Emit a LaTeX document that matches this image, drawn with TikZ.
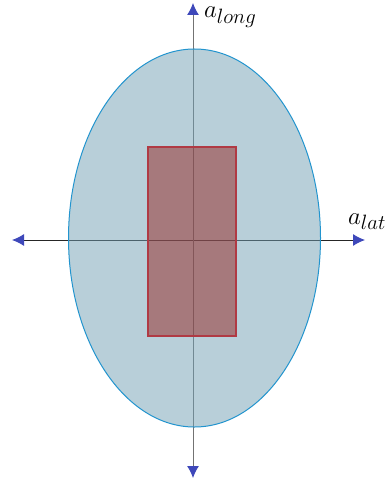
\documentclass[tikz,border=0pt]{standalone}
\usepackage{xcolor}
\usepackage{tikz}
\usetikzlibrary{arrows.meta,positioning}

\definecolor{tipblue}{RGB}{62,72,186}
\definecolor{ellfill}{RGB}{113,159,179}
\definecolor{elledge}{RGB}{34,148,206}
\definecolor{rectfill}{RGB}{150,36,32}
\definecolor{rectedge}{RGB}{176,58,68}

\begin{document}
\begin{tikzpicture}[
    x=1pt, y=-1pt,
    font=\fontsize{30}{36}\selectfont,
    axis/.style={line width=1pt, -{Latex[length=12pt,width=12pt,color=tipblue]}},
    zone/.style={draw=elledge, line width=1pt, fill=ellfill, fill opacity=0.5},
    core/.style={draw=rectedge, line width=1.2pt, fill=rectfill, fill opacity=0.5},
    axlabel/.style={anchor=base west, inner sep=0pt}
  ]
    \useasboundingbox (0,0) rectangle (391,478);

    \coordinate (o) at (193,240);
    \coordinate (west) at (12,240);
    \coordinate (east) at (365,240);
    \coordinate (south) at (193,478);
    \coordinate (north) at (193,3);

    \draw[axis, black!85] (o) -- (west);
    \draw[axis, black!85] (o) -- (east);
    \draw[axis, black!55] (o) -- (south);
    \draw[axis, black!55] (o) -- (north);

    \draw[zone] (194.5,238) ellipse [x radius=126, y radius=189];
    \draw[core] (148,147) rectangle (236,336);

    \node[axlabel] (along) at (204,18) {$a_{long}$};
    \node[axlabel] (alat) at (348,224) {$a_{lat}$};
  \end{tikzpicture}
\end{document}
